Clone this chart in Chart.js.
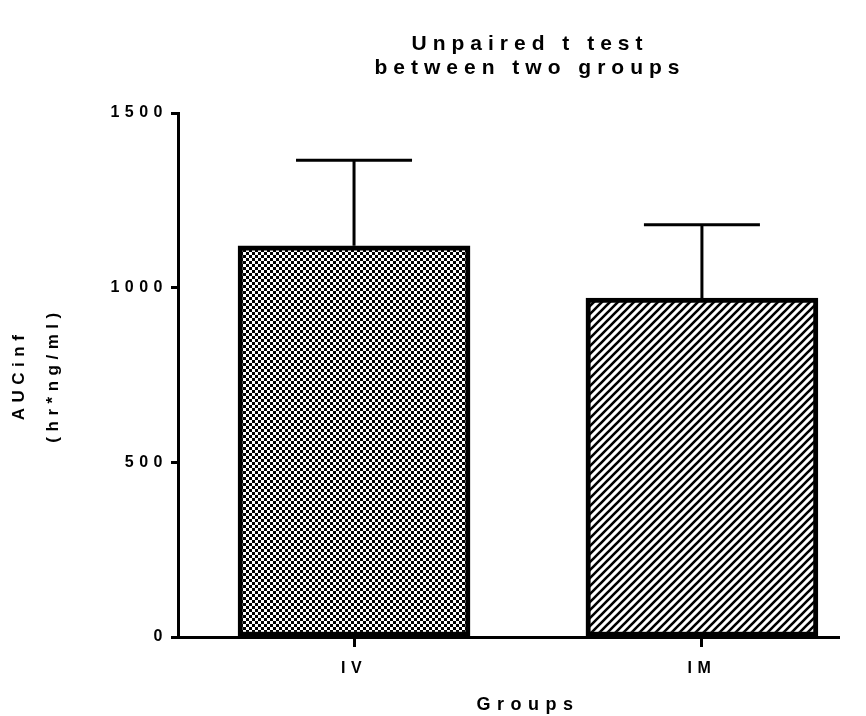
<!DOCTYPE html>
<html>
<head>
<meta charset="utf-8">
<script src="https://cdn.jsdelivr.net/npm/chart.js@4"></script>
<style>
  body { margin: 0; background: #fff; }
</style>
</head>
<body>
<canvas id="canvas" width="866" height="716"></canvas>
<script>
// DATA
const groups = ['IV', 'IM'];
const means = [1120, 970];
const errors = [245, 210];
const yTicks = [0, 500, 1000, 1500];
const titleLines = ['Unpaired t test', 'between two groups'];
const xTitle = 'Groups';
const yTitle = ['AUCinf', '(hr*ng/ml)'];

const FONT = "'Liberation Sans', Arial, sans-serif";

// PATTERNS FOR THE BARS
function checkerPattern(ctx) {
    let c = document.createElement('canvas');
    c.width = 6; c.height = 6;
    let g = c.getContext('2d');
    g.fillStyle = '#fff';
    g.fillRect(0, 0, 6, 6);
    g.fillStyle = '#000';
    g.fillRect(0, 0, 3, 3);
    g.fillRect(3, 3, 3, 3);
    return ctx.createPattern(c, 'repeat');
}

function hatchPattern(ctx) {
    let c = document.createElement('canvas');
    c.width = 8; c.height = 8;
    let g = c.getContext('2d');
    g.fillStyle = '#fff';
    g.fillRect(0, 0, 8, 8);
    g.strokeStyle = '#000';
    g.lineWidth = 2.6;
    g.beginPath();
    g.moveTo(-2, 10); g.lineTo(10, -2);
    g.moveTo(-6, 6); g.lineTo(6, -6);
    g.moveTo(2, 14); g.lineTo(14, 2);
    g.stroke();
    return ctx.createPattern(c, 'repeat');
}

// letter spacing like the original
const spacing = {
    id: 'spacing',
    beforeUpdate(chart) { chart.ctx.letterSpacing = '5.5px'; },
    beforeDraw(chart) { chart.ctx.letterSpacing = '5.5px'; }
};

// title + x axis title, centred like the original (right of the y axis)
const titles = {
    id: 'titles',
    afterDraw(chart) {
        const c = chart.ctx;
        c.save();
        c.fillStyle = '#000';
        c.textAlign = 'center';
        c.textBaseline = 'middle';
        c.letterSpacing = '6px';
        c.font = 'bold 21px ' + FONT;
        titleLines.forEach((t, i) => c.fillText(t, 530, 44 + i * 24));
        c.letterSpacing = '6.5px';
        c.font = 'bold 18px ' + FONT;
        c.fillText(xTitle, 528, 705);
        c.restore();
    }
};

// ERROR BARS (mean + error, upward only)
const errorBars = {
    id: 'errorBars',
    afterDatasetsDraw(chart) {
        const ctx = chart.ctx;
        const xs = chart.scales.x, ys = chart.scales.y;
        ctx.save();
        ctx.strokeStyle = '#000';
        ctx.lineWidth = 3;
        means.forEach((m, i) => {
            let x = xs.getPixelForValue(i + 1);
            let y0 = ys.getPixelForValue(m);
            let y1 = ys.getPixelForValue(m + errors[i]);
            ctx.beginPath();
            ctx.moveTo(x, y0);
            ctx.lineTo(x, y1);
            ctx.moveTo(x - 58, y1);
            ctx.lineTo(x + 58, y1);
            ctx.stroke();
        });
        ctx.restore();
    }
};

const canvas = document.getElementById('canvas');
const ctx = canvas.getContext('2d');

Chart.defaults.font.family = FONT;
Chart.defaults.font.weight = 'bold';
Chart.defaults.color = '#000';

const myChart = new Chart(ctx, {
    type: 'bar',
    data: {
        datasets: [{
            data: groups.map((g, i) => ({ x: i + 1, y: means[i] })),
            backgroundColor: [checkerPattern(ctx), hatchPattern(ctx)],
            borderColor: '#000',
            borderWidth: 5,
            borderSkipped: false,
            barThickness: 232
        }]
    },
    options: {
        responsive: false,
        devicePixelRatio: 1,
        animation: false,
        layout: { padding: { left: 0, right: 27, top: 113, bottom: 0 } },
        plugins: {
            legend: { display: false },
            tooltip: { enabled: false },
            title: { display: false }
        },
        scales: {
            x: {
                type: 'linear',
                offset: false,
                min: 0.494,
                max: 2.394,
                afterBuildTicks: (scale) => {
                    scale.ticks = groups.map((g, i) => ({ value: i + 1 }));
                },
                afterFit: (scale) => { scale.height = 79; },
                ticks: {
                    callback: (v) => groups[v - 1] ?? '',
                    font: { size: 16, weight: 'bold' },
                    color: '#000',
                    padding: 12,
                    maxRotation: 0
                },
                grid: {
                    offset: false,
                    drawOnChartArea: false,
                    drawTicks: true,
                    tickLength: 10,
                    tickWidth: 3,
                    tickColor: '#000'
                },
                border: { display: true, color: '#000', width: 3 }
            },
            y: {
                min: 0,
                max: 1500,
                afterBuildTicks: (scale) => {
                    scale.ticks = yTicks.map(v => ({ value: v }));
                },
                afterFit: (scale) => { scale.width = 178; },
                ticks: {
                    callback: (v) => String(v),
                    font: { size: 16, weight: 'bold' },
                    color: '#000',
                    padding: 3
                },
                grid: {
                    drawOnChartArea: false,
                    drawTicks: true,
                    tickLength: 7,
                    tickWidth: 3,
                    tickColor: '#000'
                },
                border: { display: true, color: '#000', width: 3 },
                title: {
                    display: true,
                    text: yTitle,
                    color: '#000',
                    font: { size: 17, weight: 'bold', lineHeight: 2 },
                    padding: { top: 2, bottom: 0 }
                }
            }
        }
    },
    plugins: [spacing, errorBars, titles]
});
</script>
</body>
</html>
